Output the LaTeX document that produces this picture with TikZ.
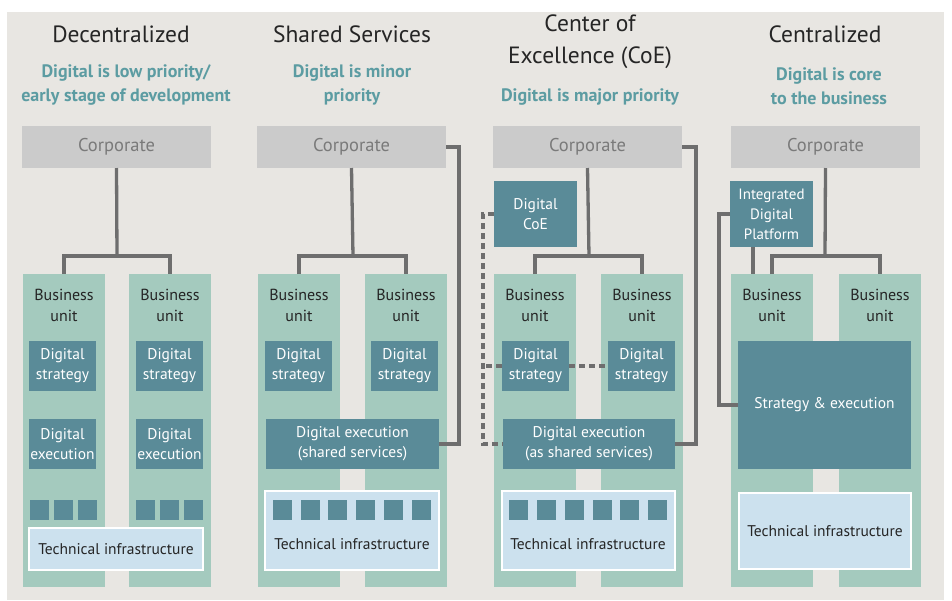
\documentclass[tikz,border=0pt]{standalone}
\usepackage{fontspec}
\setmainfont{PT Sans}
\definecolor{bgc}{HTML}{E8E6E2}
\definecolor{corpg}{HTML}{CBCBCB}
\definecolor{corpt}{HTML}{7A7A7A}
\definecolor{mint}{HTML}{A4CABE}
\definecolor{teal}{HTML}{5A8B98}
\definecolor{lblue}{HTML}{CCE1EE}
\definecolor{subc}{HTML}{5C9CA2}
\definecolor{lineg}{HTML}{6E6E6E}
\definecolor{darkt}{HTML}{252525}
\tikzset{
  box/.style={anchor=north west, inner sep=0pt, outer sep=0pt, align=center},
  corp/.style={box, fill=corpg, text=corpt, minimum width=189pt, minimum height=42pt, font=\fontsize{18.5}{20}\selectfont},
  bucol/.style={box, fill=mint, minimum width=82pt, minimum height=313pt},
  butext/.style={anchor=north, inner sep=0pt, align=center, text=darkt, font=\fontsize{16}{20.5}\selectfont},
  dk/.style={box, fill=teal, text=white, font=\fontsize{15.5}{20}\selectfont},
  sq/.style={box, fill=teal, minimum width=19pt, minimum height=20pt},
  tech/.style={box, fill=lblue, draw=white, line width=1.5pt, text=darkt, font=\fontsize{15.5}{19}\selectfont},
  techt/.style={anchor=center, inner sep=0pt, text=darkt, font=\fontsize{15.5}{19}\selectfont},
  head/.style={inner sep=0pt, align=center, text=darkt, font=\fontsize{23.5}{32}\selectfont},
  sub/.style={inner sep=0pt, align=center, text=subc, font=\bfseries\fontsize{18}{24}\selectfont},
  conn/.style={draw=lineg, line width=3.3pt, line join=miter},
  dconn/.style={conn, dash pattern=on 6pt off 4pt},
}
\begin{document}
\begin{tikzpicture}[x=1pt,y=-1pt]
\useasboundingbox (0,0) rectangle (952,600);
\fill[white] (0,0) rectangle (952,600);
\fill[bgc] (7,12) rectangle (944,600);

% ---------- headings ----------
\node[head] (h1) at (121,34) {Decentralized};
\node[sub] (s1) at (126,85) {Digital is low priority/\\early stage of development};
\node[head] (h2) at (352,34) {Shared Services};
\node[sub] (s2) at (352,85) {Digital is minor\\priority};
\node[head] (h3) at (590,42) {Center of\\Excellence (CoE)};
\node[sub] (s3) at (590,97) {Digital is major priority};
\node[head] (h4) at (825,34) {Centralized};
\node[sub] (s4) at (829,86) {Digital is core\\to the business};

% ---------- column 1 ----------
\node[corp] (c1corp) at (22,126) {Corporate};
\node[bucol] (c1bl) at (23,274) {};
\node[bucol] (c1br) at (129,274) {};
\node[butext] (c1blt) at ([yshift=-15pt]c1bl.north) {Business\\unit};
\node[butext] (c1brt) at ([yshift=-15pt]c1br.north) {Business\\unit};
\node[dk, minimum width=67pt, minimum height=50pt] (c1sl) at (29,341) {Digital\\strategy};
\node[dk, minimum width=67pt, minimum height=50pt] (c1sr) at (136,341) {Digital\\strategy};
\node[dk, minimum width=67pt, minimum height=50pt] (c1el) at (29,419) {Digital\\execution};
\node[dk, minimum width=67pt, minimum height=50pt] (c1er) at (136,419) {Digital\\execution};
\foreach \x [count=\i] in {30,54,78,136,160,184} \node[sq] (c1q\i) at (\x,500) {};
\node[tech, minimum width=174pt, minimum height=42pt] (c1tech) at (29,528) {Technical infrastructure};
\coordinate (c1mid) at (117,256);
\draw[conn] (c1corp.south) -- (c1mid);
\draw[conn] (c1bl.north) |- (c1mid) -| (c1br.north);

% ---------- column 2 ----------
\node[corp] (c2corp) at (257,126) {Corporate};
\node[bucol] (c2bl) at (258,274) {};
\node[bucol] (c2br) at (365,274) {};
\node[butext] (c2blt) at ([yshift=-15pt]c2bl.north) {Business\\unit};
\node[butext] (c2brt) at ([yshift=-15pt]c2br.north) {Business\\unit};
\node[dk, minimum width=67pt, minimum height=50pt] (c2sl) at (265,341) {Digital\\strategy};
\node[dk, minimum width=67pt, minimum height=50pt] (c2sr) at (371,341) {Digital\\strategy};
\node[dk, minimum width=173pt, minimum height=50pt] (c2ex) at (266,419) {Digital execution\\(shared services)};
\node[tech, minimum width=174pt, minimum height=79pt] (c2tech) at (265,491) {};
\node[techt] (c2techt) at (352,544) {Technical infrastructure};
\foreach \x [count=\i] in {273,301,328,356,384,412} \node[sq] (c2q\i) at (\x,500) {};
\coordinate (c2mid) at (353,256);
\coordinate (c2r) at (459,300);
\draw[conn] (c2corp.south) -- (c2mid);
\draw[conn] (c2bl.north) |- (c2mid) -| (c2br.north);
\draw[conn] (c2corp.east) -| (c2r) |- (c2ex.east);

% ---------- column 3 ----------
\node[corp] (c3corp) at (493,126) {Corporate};
\node[dk, minimum width=83pt, minimum height=66pt] (c3coe) at (494,181) {Digital\\CoE};
\node[bucol] (c3bl) at (494,274) {};
\node[bucol] (c3br) at (601,274) {};
\node[butext] (c3blt) at ([yshift=-15pt]c3bl.north) {Business\\unit};
\node[butext] (c3brt) at ([yshift=-15pt]c3br.north) {Business\\unit};
\node[dk, minimum width=67pt, minimum height=50pt] (c3sl) at (502,341) {Digital\\strategy};
\node[dk, minimum width=67pt, minimum height=50pt] (c3sr) at (608,341) {Digital\\strategy};
\node[dk, minimum width=172pt, minimum height=50pt] (c3ex) at (503,419) {Digital execution\\(as shared services)};
\node[tech, minimum width=173pt, minimum height=79pt] (c3tech) at (502,491) {};
\node[techt] (c3techt) at (588,544) {Technical infrastructure};
\foreach \x [count=\i] in {509,537,565,593,620,648} \node[sq] (c3q\i) at (\x,500) {};
\coordinate (c3mid) at (589,256);
\coordinate (c3r) at (696,300);
\coordinate (c3l) at (483,300);
\draw[conn] (c3corp.south) -- (c3mid);
\draw[conn] (c3bl.north) |- (c3mid) -| (c3br.north);
\draw[conn] (c3corp.east) -| (c3r) |- (c3ex.east);
\draw[dconn] (c3coe.west) -| (c3l) |- (c3ex.west);
\draw[dconn] (c3sl.west) -- (c3sl.west -| c3l);
\draw[dconn] (c3sl.east) -- (c3sr.west);

% ---------- column 4 ----------
\node[corp] (c4corp) at (731,126) {Corporate};
\node[dk, minimum width=83pt, minimum height=66pt, font=\fontsize{15}{20}\selectfont] (c4idp) at (730,181) {Integrated\\Digital\\Platform};
\node[bucol] (c4bl) at (731,274) {};
\node[bucol] (c4br) at (839,274) {};
\node[butext] (c4blt) at ([yshift=-15pt]c4bl.north) {Business\\unit};
\node[butext] (c4brt) at ([yshift=-15pt]c4br.north) {Business\\unit};
\node[dk, minimum width=173pt, minimum height=128pt] (c4se) at (738,341) {Strategy \& execution};
\node[tech, minimum width=172pt, minimum height=76pt] (c4tech) at (739,493) {Technical infrastructure};
\coordinate (c4mid) at (825,256);
\coordinate (c4l) at (719,300);
\coordinate (c4ib) at (753,247);
\draw[conn] (c4corp.south) -- (c4mid);
\draw[conn] (c4bl.north) |- (c4mid) -| (c4br.north);
\draw[conn] (c4ib) -- (c4ib |- c4bl.north);
\draw[conn] (c4idp.west) -| (c4l) |- (c4se.west);
\end{tikzpicture}
\end{document}
